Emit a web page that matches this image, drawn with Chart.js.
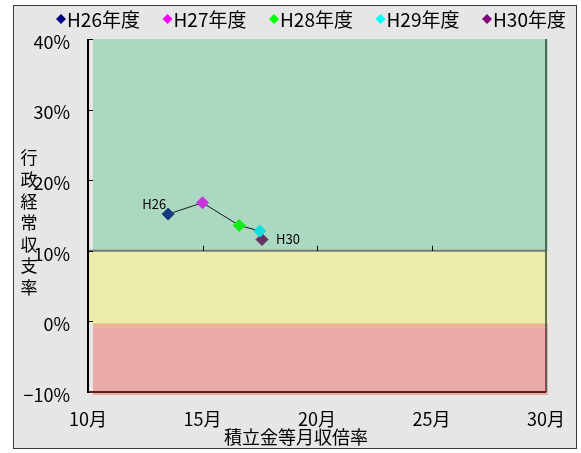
<!DOCTYPE html>
<html>
<head>
<meta charset="utf-8">
<script src="https://cdn.jsdelivr.net/npm/chart.js@4/dist/chart.umd.min.js"></script>
<style>
  html, body { margin:0; padding:0; background:#fff; }
  #wrap { width:581px; height:453px; }
</style>
</head>
<body>
<div id="wrap"><canvas id="c" width="581" height="453"></canvas></div>
<script>
// data
const years = ["H26年度", "H27年度", "H28年度", "H29年度", "H30年度"];
const pointTags = ["H26", "", "", "", "H30"];
const monthRatio = [13.5, 15.0, 16.6, 17.5, 17.6];   // 積立金等月収倍率
const balanceRate = [15.2, 16.8, 13.6, 12.8, 11.6];  // 行政経常収支率 (%)
const xTicks = [10, 15, 20, 25, 30];
const yTicks = [-10, 0, 10, 20, 30, 40];
const bandEdges = [40, 10, 0, -10];

const pointColors = ["#1a3a80", "#cc33dd", "#11ee11", "#11e0e0", "#663366"];
const legendColors = ["#000080", "#ff00ff", "#00ff00", "#00ffff", "#800080"];
const FONT = "'Noto Sans CJK JP', 'DejaVu Sans', sans-serif";

const lineSet = {
  label: "trend",
  data: monthRatio.map((x, i) => ({ x, y: balanceRate[i] })),
  showLine: true,
  borderColor: "#1a1a1a",
  borderWidth: 1,
  pointRadius: 0,
  order: 2
};
const pointSets = years.map((name, i) => ({
  label: name,
  data: [{ x: monthRatio[i], y: balanceRate[i] }],
  pointStyle: "rectRot",
  pointRadius: 6,
  pointHoverRadius: 6,
  backgroundColor: pointColors[i],
  borderColor: pointColors[i],
  order: 1
}));

const decor = {
  id: "decor",
  beforeDraw(chart) {
    const { ctx, width, height } = chart;
    ctx.save();
    ctx.fillStyle = "#fff";
    ctx.fillRect(0, 0, width, height);
    ctx.fillStyle = "#e6e6e6";
    ctx.fillRect(13, 5, 563, 443);
    ctx.strokeStyle = "#3a3a3a";
    ctx.lineWidth = 1;
    ctx.strokeRect(13.5, 5.5, 563, 443);
    ctx.restore();
  },
  beforeDatasetsDraw(chart) {
    const { ctx, chartArea: a, scales: { x, y } } = chart;
    const y40 = y.getPixelForValue(bandEdges[0]);
    const y10 = y.getPixelForValue(bandEdges[1]);
    const y0 = y.getPixelForValue(bandEdges[2]);
    const ym10 = y.getPixelForValue(bandEdges[3]);
    ctx.save();
    // green band
    ctx.fillStyle = "#aad8c0";
    ctx.fillRect(a.left + 5, y40, a.right - a.left - 3, y10 - y40);
    // yellow band
    ctx.fillStyle = "#ebebaa";
    ctx.fillRect(a.left, y10, a.right - a.left + 2, y0 - y10 + 2);
    // overlap strip
    ctx.fillStyle = "#efb48e";
    ctx.fillRect(a.left + 5, y0 + 2, a.right - a.left - 3, 4);
    // pink band
    ctx.fillStyle = "#ebaaaa";
    ctx.fillRect(a.left + 5, y0 + 6, a.right - a.left - 3, ym10 - y0 - 3);

    // divider at 10%
    ctx.strokeStyle = "#7a7a7a";
    ctx.lineWidth = 2;
    ctx.beginPath();
    ctx.moveTo(a.left, y10);
    ctx.lineTo(a.right, y10);
    ctx.stroke();

    // x tick marks on the 10% line
    ctx.strokeStyle = "#000";
    ctx.lineWidth = 1;
    xTicks.slice(1, -1).forEach(v => {
      const px = Math.round(x.getPixelForValue(v)) + 0.5;
      ctx.beginPath();
      ctx.moveTo(px, y10);
      ctx.lineTo(px, y10 - 5);
      ctx.stroke();
    });
    // y tick marks, inward
    yTicks.forEach(v => {
      const py = Math.round(y.getPixelForValue(v)) + 0.5;
      ctx.beginPath();
      ctx.moveTo(a.left, py);
      ctx.lineTo(a.left + 5, py);
      ctx.stroke();
    });

    // frame of the plot
    ctx.strokeStyle = "#2e4a3c";
    ctx.lineWidth = 1.5;
    ctx.beginPath();
    ctx.moveTo(a.right, a.top);
    ctx.lineTo(a.right, a.bottom);
    ctx.stroke();
    ctx.strokeStyle = "#5a2020";
    ctx.lineWidth = 2;
    ctx.beginPath();
    ctx.moveTo(a.left, a.bottom);
    ctx.lineTo(a.right, a.bottom);
    ctx.stroke();
    ctx.strokeStyle = "#000";
    ctx.lineWidth = 2;
    ctx.beginPath();
    ctx.moveTo(a.left, a.top);
    ctx.lineTo(a.left, a.bottom + 1);
    ctx.stroke();
    ctx.restore();
  },
  afterDraw(chart) {
    const { ctx, scales: { x, y } } = chart;
    ctx.save();
    // point tags
    ctx.fillStyle = "#000";
    ctx.font = "13px " + FONT;
    ctx.textBaseline = "middle";
    pointTags.forEach((t, i) => {
      if (!t) return;
      const px = x.getPixelForValue(monthRatio[i]);
      const py = y.getPixelForValue(balanceRate[i]);
      if (i === 0) {
        ctx.textAlign = "right";
        ctx.fillText(t, px - 2, py - 10);
      } else {
        ctx.textAlign = "left";
        ctx.fillText(t, px + 14, py);
      }
    });

    // legend
    ctx.font = "19px " + FONT;
    ctx.textAlign = "left";
    years.forEach((name, i) => {
      const cx = 61 + i * 106.5, cy = 19;
      ctx.fillStyle = legendColors[i];
      ctx.beginPath();
      ctx.moveTo(cx, cy - 5);
      ctx.lineTo(cx + 5, cy);
      ctx.lineTo(cx, cy + 5);
      ctx.lineTo(cx - 5, cy);
      ctx.closePath();
      ctx.fill();
      ctx.fillStyle = "#000";
      ctx.fillText(name, cx + 6, cy + 1);
    });

    // axis titles
    ctx.font = "18px " + FONT;
    ctx.textAlign = "center";
    ctx.fillText("積立金等月収倍率", 296, 437);
    ctx.font = "17px " + FONT;
    "行政経常収支率".split("").forEach((ch, i) => {
      ctx.fillText(ch, 29, 158 + i * 21.6);
    });
    ctx.restore();
  }
};

new Chart(document.getElementById("c"), {
  type: "scatter",
  data: { datasets: [lineSet, ...pointSets] },
  options: {
    responsive: false,
    animation: false,
    devicePixelRatio: 1,
    layout: { padding: { top: 39, right: 31, left: 0, bottom: 0 } },
    plugins: { legend: { display: false }, tooltip: { enabled: false } },
    scales: {
      x: {
        type: "linear",
        min: 10, max: 30,
        afterBuildTicks: s => { s.ticks = xTicks.map(v => ({ value: v })); },
        afterFit: s => { s.height = 61; },
        ticks: { callback: v => v + "月", color: "#000", font: { size: 18, family: FONT }, padding: 16, maxRotation: 0 },
        grid: { display: false, drawTicks: false },
        border: { display: false }
      },
      y: {
        type: "linear",
        min: -10, max: 40,
        afterBuildTicks: s => { s.ticks = yTicks.map(v => ({ value: v })); },
        afterFit: s => { s.width = 88; },
        ticks: { callback: v => String(v).replace("-", "\u2212") + "%", color: "#000", font: { size: 18, family: FONT }, padding: 18, labelOffset: 3 },
        grid: { display: false, drawTicks: false },
        border: { display: false }
      }
    }
  },
  plugins: [decor]
});
</script>
</body>
</html>
